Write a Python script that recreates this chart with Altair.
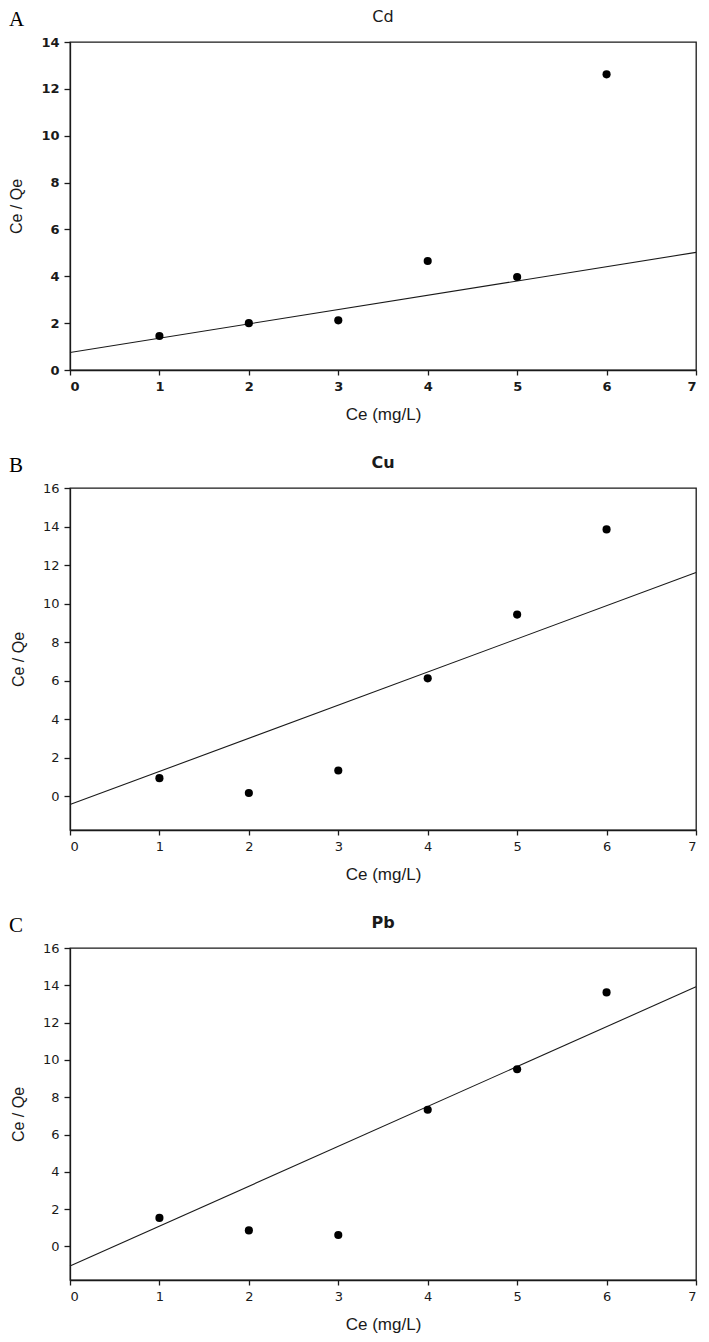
import altair as alt
import pandas as pd

# ---- data ----
ce = [1, 2, 3, 4, 5, 6]
cd_y = [1.45, 2.0, 2.12, 4.65, 3.97, 12.62]
cu_y = [0.94, 0.17, 1.34, 6.12, 9.43, 13.85]
pb_y = [1.53, 0.86, 0.61, 7.33, 9.50, 13.62]
fit_x = [0, 7]
cd_fit = [0.75, 5.02]
cu_fit = [-0.43, 11.61]
pb_fit = [-1.05, 13.92]
x_ticks = [0, 1, 2, 3, 4, 5, 6, 7]

W = 626
INK = "#1a1a1a"


def panel(letter, metal, yvals, fit, domain, yticks, height, label_weight, title_weight):
    df = pd.DataFrame(
        {"x": ce + fit_x, "y": yvals + fit, "kind": ["pt"] * len(ce) + ["fit"] * len(fit_x)}
    )
    x_enc = alt.X(
        "x:Q",
        scale=alt.Scale(domain=[0, 7], nice=False, zero=False),
        axis=alt.Axis(
            values=x_ticks, format="d", title="Ce (mg/L)", grid=False,
            tickSize=5, tickWidth=1.3, tickColor=INK, domainColor=INK, domainWidth=1.3,
            labelFont="DejaVu Sans", labelFontSize=13, labelFontWeight=label_weight,
            labelColor=INK, labelPadding=5,
            titleFont="Liberation Sans", titleFontSize=17, titleFontWeight="normal",
            titleColor=INK, titlePadding=13,
        ),
    )
    y_enc = alt.Y(
        "y:Q",
        scale=alt.Scale(domain=domain, nice=False, zero=False),
        axis=alt.Axis(
            values=yticks, format="d", title="Ce / Qe", grid=False,
            tickSize=6, tickWidth=1.3, tickColor=INK, domainColor=INK, domainWidth=1.3,
            labelFont="DejaVu Sans", labelFontSize=13, labelFontWeight=label_weight,
            labelColor=INK, labelPadding=5,
            titleFont="Liberation Sans", titleFontSize=16, titleFontWeight="normal",
            titleColor=INK, titlePadding=16,
        ),
    )
    base = alt.Chart(df).encode(x=x_enc, y=y_enc)
    line = base.transform_filter(alt.datum.kind == "fit").mark_line(
        color=INK, strokeWidth=1.1
    )
    pts = base.transform_filter(alt.datum.kind == "pt").mark_point(
        filled=True, shape="circle", size=66, color="black", opacity=1
    )
    lab = alt.Chart(pd.DataFrame({"t": [letter]})).mark_text(
        font="Liberation Serif", fontSize=21, align="left", baseline="alphabetic", color="black"
    ).encode(text="t:N", x=alt.value(-61), y=alt.value(-16))
    ttl = alt.Chart(pd.DataFrame({"t": [metal]})).mark_text(
        font="DejaVu Sans", fontSize=16, fontWeight=title_weight, align="center",
        baseline="alphabetic", color=INK
    ).encode(text="t:N", x=alt.value(W / 2), y=alt.value(-20))
    return alt.layer(line, pts, lab, ttl).properties(width=W, height=height)


chart = alt.vconcat(
    panel("A", "Cd", cd_y, cd_fit, [0, 14], list(range(0, 15, 2)), 328, "bold", "normal"),
    panel("B", "Cu", cu_y, cu_fit, [-1.75, 16], list(range(0, 17, 2)), 342, "normal", "bold"),
    panel("C", "Pb", pb_y, pb_fit, [-1.8, 16], list(range(0, 17, 2)), 332, "normal", "bold"),
    spacing=118,
    bounds="flush",
).properties(padding=0, background="white").configure_view(stroke=INK, strokeWidth=1.3)

chart.save("out.html", embed_options={"renderer": "svg", "actions": False})
